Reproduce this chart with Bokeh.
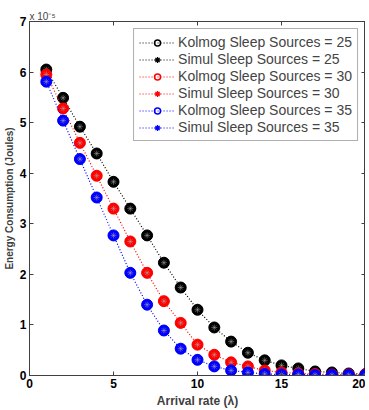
from bokeh.plotting import figure
from bokeh.models import Range1d, LinearAxis, FixedTicker, Legend, LegendItem
from bokeh.embed import file_html
from bokeh.resources import INLINE

x = list(range(1, 21))
kolmog_25 = [6.05, 5.49, 4.92, 4.39, 3.83, 3.30, 2.77, 2.23, 1.74, 1.30, 0.95, 0.67, 0.45, 0.30, 0.20, 0.14, 0.08, 0.06, 0.04, 0.03]
simul_25 = [6.05, 5.49, 4.92, 4.39, 3.83, 3.30, 2.77, 2.23, 1.74, 1.30, 0.95, 0.67, 0.45, 0.30, 0.20, 0.14, 0.08, 0.06, 0.04, 0.03]
kolmog_30 = [5.95, 5.28, 4.60, 3.95, 3.30, 2.65, 2.03, 1.47, 1.04, 0.61, 0.41, 0.26, 0.18, 0.10, 0.06, 0.04, 0.03, 0.02, 0.02, 0.02]
simul_30 = [5.95, 5.28, 4.60, 3.95, 3.30, 2.65, 2.03, 1.47, 1.04, 0.61, 0.41, 0.26, 0.18, 0.10, 0.06, 0.04, 0.03, 0.02, 0.02, 0.02]
kolmog_35 = [5.81, 5.04, 4.28, 3.52, 2.77, 2.03, 1.40, 0.89, 0.53, 0.31, 0.18, 0.10, 0.06, 0.03, 0.02, 0.02, 0.01, 0.01, 0.01, 0.01]
simul_35 = [5.81, 5.04, 4.28, 3.52, 2.77, 2.03, 1.40, 0.89, 0.53, 0.31, 0.18, 0.10, 0.06, 0.03, 0.02, 0.02, 0.01, 0.01, 0.01, 0.01]
labels = ["Kolmog Sleep Sources = 25", "Simul Sleep Sources = 25",
          "Kolmog Sleep Sources = 30", "Simul Sleep Sources = 30",
          "Kolmog Sleep Sources = 35", "Simul Sleep Sources = 35"]
colors = ["black", "#ff0000", "#0000ff"]
x_ticks = [0, 5, 10, 15, 20]
y_ticks = [0, 1, 2, 3, 4, 5, 6, 7]

FONT = "Liberation Sans"

p = figure(frame_width=336, frame_height=354, output_backend="svg", toolbar_location=None,
           x_range=Range1d(0, 20), y_range=Range1d(0, 7),
           min_border_left=22, min_border_right=0, min_border_top=21, min_border_bottom=27)
p.xgrid.visible = False
p.ygrid.visible = False
p.outline_line_color = "#404040"
p.background_fill_color = "white"
p.border_fill_color = "white"

p.title.text = "x 10\u207b\u2075"
p.title.text_font = FONT
p.title.text_font_size = "10px"
p.title.text_font_style = "normal"
p.title.align = "left"
p.title.offset = 0
p.title.standoff = 0

for ax in (p.xaxis[0], p.yaxis[0]):
    ax.major_tick_in = 4
    ax.major_tick_out = 0
    ax.minor_tick_line_color = None
    ax.axis_line_color = "#404040"
    ax.major_tick_line_color = "#404040"
    ax.major_label_text_font = FONT
    ax.major_label_text_font_size = "12px"
    ax.major_label_text_font_style = "bold"
    ax.major_label_text_color = "black"
    ax.axis_label_text_font = FONT
    ax.axis_label_text_font_style = "bold"
    ax.axis_label_text_color = "#404040"

p.xaxis[0].ticker = FixedTicker(ticks=x_ticks)
p.yaxis[0].ticker = FixedTicker(ticks=y_ticks)
p.xaxis[0].axis_label = "Arrival rate (\u03bb)"
p.xaxis[0].axis_label_text_font_size = "12px"
p.xaxis[0].axis_label_standoff = 3
p.xaxis[0].major_label_standoff = 3
p.yaxis[0].axis_label = "Energy Consumption (Joules)"
p.yaxis[0].axis_label_text_font_size = "10px"
p.yaxis[0].axis_label_standoff = 2
p.yaxis[0].major_label_standoff = 3

top_ax = LinearAxis(ticker=FixedTicker(ticks=x_ticks),
                    major_label_overrides={t: "" for t in x_ticks},
                    major_label_standoff=0,
                    major_tick_in=4, major_tick_out=0, minor_tick_line_color=None,
                    axis_line_color=None, major_tick_line_color="#404040")
right_ax = LinearAxis(ticker=FixedTicker(ticks=y_ticks),
                      major_label_overrides={t: "" for t in y_ticks},
                      major_label_standoff=0,
                      major_tick_in=4, major_tick_out=0, minor_tick_line_color=None,
                      axis_line_color=None, major_tick_line_color="#404040")
p.add_layout(top_ax, "above")
p.add_layout(right_ax, "right")

series = [(kolmog_25, simul_25), (kolmog_30, simul_30), (kolmog_35, simul_35)]
items = []
for i, (kol, sim) in enumerate(series):
    c = colors[i]
    ln = p.line(x, kol, line_color=c, line_dash="1 2", line_width=1.2)
    p.scatter(x, kol, marker="circle", size=11, line_color=c, fill_color=c, line_width=1)
    kr = p.scatter(x, kol, marker="circle", size=9, line_color=c, fill_color=None, line_width=1.5)
    sr = p.scatter(x, sim, marker="asterisk", size=8, line_color=c, line_width=1.3)
    p.scatter(x, sim, marker="asterisk", size=6, line_color="#aaaaaa", line_width=0.8, line_alpha=0.6)
    items.append(LegendItem(label=labels[2 * i], renderers=[ln, kr]))
    items.append(LegendItem(label=labels[2 * i + 1], renderers=[ln, sr]))

legend = Legend(items=items, location="top_right")
legend.label_text_font = FONT
legend.label_text_font_size = "14px"
legend.label_height = 15
legend.glyph_height = 15
legend.glyph_width = 36
legend.spacing = 1
legend.padding = 5
legend.margin = 7
legend.label_standoff = 3
legend.border_line_color = "#606060"
legend.border_line_width = 1
legend.background_fill_alpha = 1
p.add_layout(legend)

open("out.html", "w").write(file_html(p, INLINE))
